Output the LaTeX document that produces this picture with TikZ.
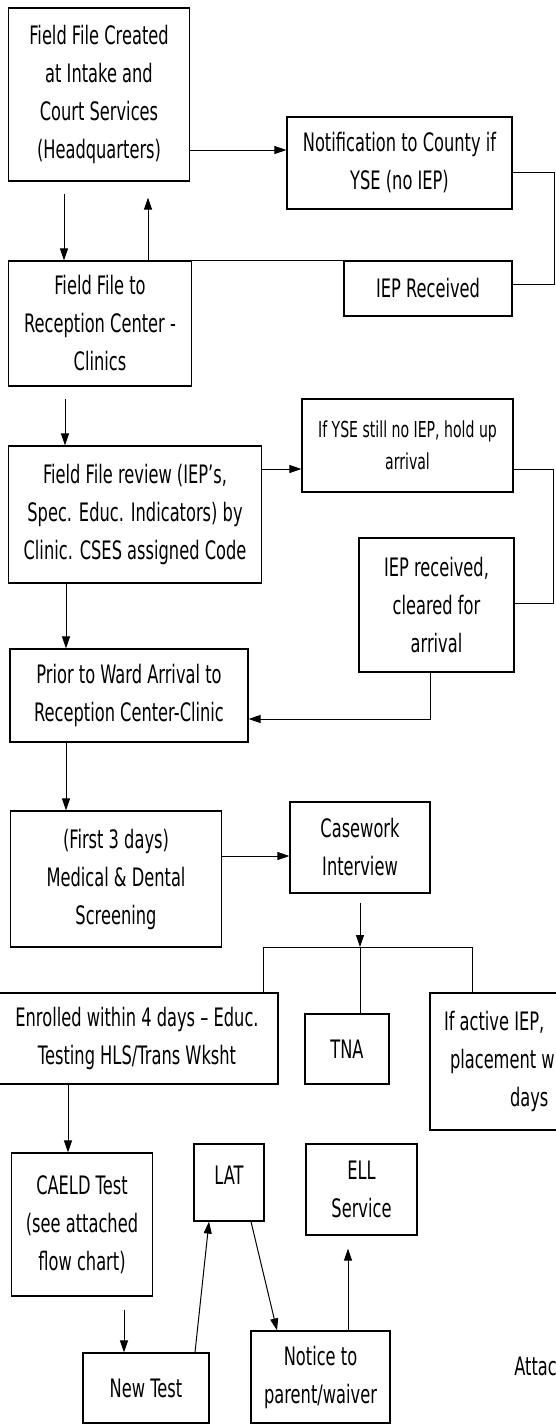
\documentclass[tikz,border=0pt]{standalone}
\usepackage{fontspec}
\setmainfont[FakeStretch=0.64]{DejaVu Sans}
\usetikzlibrary{arrows.meta}
\tikzset{bx/.style={draw,rectangle,align=center,inner sep=1pt,line width=0.6pt},wh/.style 2 args={minimum width=#1*0.5pt,minimum height=#2*0.5pt},arr/.style={-{Triangle[length=6pt,width=4pt]},line width=0.5pt}}

\begin{document}
\begin{tikzpicture}[x=0.5pt,y=-0.5pt,font=\fontsize{12.7}{19}\selectfont]
\path[use as bounding box,clip](0,0)rectangle(556,1425);
\node[bx,wh={181.5}{173}](ff)at(99,94.5){Field File Created\\at Intake and\\Court Services\\(Headquarters)};
\node[bx,wh={225}{92}](nc)at(399.5,163){Notification to County if\\YSE (no IEP)};
\node[bx,wh={182.5}{125}](rc)at(100,323.5){Field File to\\Reception Center -\\Clinics};
\node[bx,wh={168}{55}](ir)at(428,288.5){IEP Received};
\node[bx,wh={253.5}{137}](rv)at(135,514.5){Field File review (IEP’s,\\Spec. Educ. Indicators) by\\Clinic. CSES assigned Code};
\node[bx,wh={211}{93},font=\fontsize{11}{16}\selectfont](hu)at(407.5,445.5){If YSE still no IEP, hold up\\arrival};
\node[bx,wh={155}{134}](cl)at(436.5,605){IEP received,\\cleared for\\arrival};
\node[bx,wh={238}{93}](pw)at(129,695.5){Prior to Ward Arrival to\\Reception Center-Clinic};
\node[bx,wh={211}{136}](md)at(116,879){(First 3 days)\\Medical \& Dental\\Screening};
\node[bx,wh={140}{91}](ci)at(360,847.5){Casework\\Interview};
\node[bx,wh={282}{91}](en)at(137,1038.5){Enrolled within 4 days – Educ.\\Testing HLS/Trans Wksht};
\node[bx,wh={84}{70}](tna)at(347,1049){TNA};
\node[bx,wh={200}{137},text width=86pt,align=flush left,inner xsep=7pt](ai)at(530,1061.5){If active IEP,\\\hspace*{3pt}placement w\\\hspace*{33pt}days};
\node[bx,wh={140.5}{143}](ce)at(82,1224.5){CAELD Test\\(see attached\\flow chart)};
\node[bx,wh={70}{77},text depth=7pt](lat)at(229,1182.5){LAT};
\node[bx,wh={111}{91}](ell)at(361.5,1189.5){ELL\\Service};
\node[bx,wh={126}{70}](nt)at(146,1388){New Test};
\node[bx,wh={139}{92}](np)at(320.5,1377){Notice to\\parent/waiver};
\node[anchor=west,inner sep=0pt](att)at(514,1366){Attac};
\draw[arr](ff.east|-0,150)--(nc.west|-0,150);
\draw(nc.east|-0,172)--(554,172)|-(ir.east|-0,284);
\draw[arr,shorten <=6pt](ff.south-|64,0)--(rc.north-|64,0);
\draw[arr,shorten >=8pt](ir.north west)--(rc.north-|148,0)--(ff.south-|148,0);
\draw[arr,shorten <=6pt](rc.south-|65,0)--(rv.north-|65,0);
\draw[arr](rv.east|-0,469)--(hu.west|-0,469);
\draw(hu.east|-0,469)--(553,469)|-(cl.east|-0,603);
\draw[arr](cl.south-|430,0)|-(pw.east|-0,719);
\foreach\a/\b/\x in{rv/pw/66,pw/md/66,en/ce/68}\draw[arr](\a.south-|\x,0)--(\b.north-|\x,0);
\draw[arr](md.east|-0,856)--(ci.west|-0,856);
\coordinate(sp)at(ci.south|-0,947);
\draw[arr,shorten <=4.5pt](ci.south)--(sp);
\draw(sp)--(tna.north-|sp);
\draw(sp)-|(en.north-|263,0);
\draw(sp)-|(ai.north-|472,0);
\draw[arr,shorten <=6.5pt](ce.south-|124,0)--(nt.north-|124,0);
\draw[arr](nt.north-|195,0)--(lat.south-|209,0);
\draw[arr](lat.south-|251,0)--(np.north-|277,0);
\draw[arr,shorten >=6.5pt](np.north-|348,0)--(ell.south-|348,0);
\end{tikzpicture}
\end{document}
